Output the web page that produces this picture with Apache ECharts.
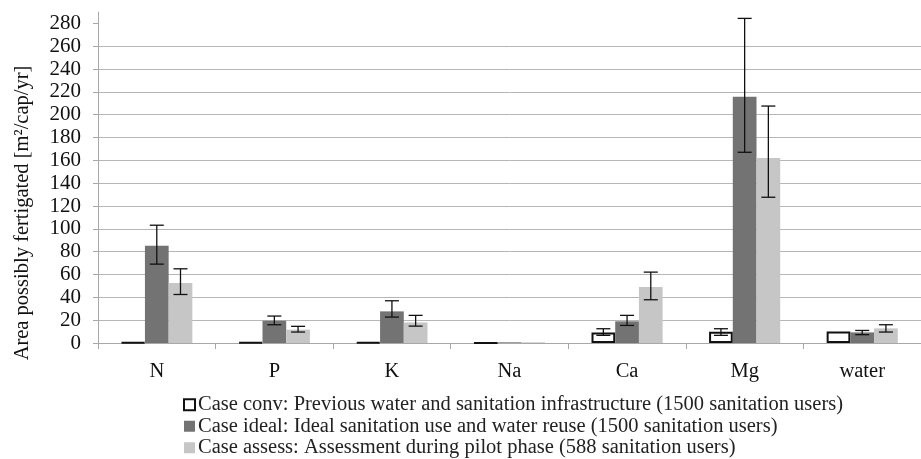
<!DOCTYPE html>
<html>
<head>
<meta charset="utf-8">
<script src="https://cdn.jsdelivr.net/npm/echarts@6/dist/echarts.min.js"></script>
<style>html,body{margin:0;padding:0;background:#fff}#c{width:921px;height:459px}</style>
</head>
<body>
<div id="c"></div>
<script>
const categories = ['N', 'P', 'K', 'Na', 'Ca', 'Mg', 'water'];
const seriesNames = [
  'Case conv: Previous water and sanitation infrastructure (1500 sanitation users)',
  'Case ideal: Ideal sanitation use and water reuse (1500 sanitation users)',
  'Case assess: Assessment during pilot phase (588 sanitation users)'
];
const convValues   = [0.5, 0.5, 0.6, 0.1, 9.3, 9.9, 10];
const idealValues  = [85.2, 19.5, 27.7, 0.6, 19, 215.8, 9.3];
const assessValues = [52.5, 11.7, 18, 0.6, 49, 162, 12.8];
const convLow   = [null, null, null, null, 6.7, 6.7, null];
const convHigh  = [null, null, null, null, 12.5, 12.5, null];
const idealLow  = [69.1, 16, 22.7, null, 15.4, 167.1, 7.3];
const idealHigh = [103.2, 23.6, 37, null, 24.2, 284.4, 11];
const assessLow  = [42.5, 9.6, 14.8, null, 37.9, 127.7, 9.6];
const assessHigh = [65, 14.6, 24.2, null, 62.1, 207.6, 16];
const yTickValues = [0, 20, 40, 60, 80, 100, 120, 140, 160, 180, 200, 220, 240, 260, 280];
const yMin = 0, yMax = 290, yInterval = 20;

const FONT = "'Liberation Serif', 'DejaVu Serif', serif";
const CAT_GAP = 0.395;

function errData(low, high) {
  const out = [];
  for (let i = 0; i < categories.length; i++) {
    if (low[i] != null && high[i] != null) out.push([i, low[i], high[i]]);
  }
  return out;
}
function errSeries(low, high, pos) {
  return {
    type: 'custom',
    data: errData(low, high),
    z: 10,
    silent: true,
    renderItem: function (params, api) {
      const idx = api.value(0);
      const lo = api.coord([idx, api.value(1)]);
      const hi = api.coord([idx, api.value(2)]);
      const band = api.size([1, 0])[0];
      const bw = band * (1 - CAT_GAP) / 3;
      const x = lo[0] + (pos - 1) * bw;
      const cap = 7;
      const style = { stroke: '#111', lineWidth: 1.3 };
      return {
        type: 'group',
        children: [
          { type: 'line', shape: { x1: x, y1: lo[1], x2: x, y2: hi[1] }, style: style },
          { type: 'line', shape: { x1: x - cap, y1: lo[1], x2: x + cap, y2: lo[1] }, style: style },
          { type: 'line', shape: { x1: x - cap, y1: hi[1], x2: x + cap, y2: hi[1] }, style: style }
        ]
      };
    }
  };
}

const chart = echarts.init(document.getElementById('c'), null, { renderer: 'canvas' });
chart.setOption({
  animation: false,
  backgroundColor: '#fff',
  textStyle: { fontFamily: FONT },
  grid: { left: 98, top: 12, right: -10, bottom: 116, containLabel: false },
  legend: {
    orient: 'vertical',
    left: 183,
    top: 394,
    padding: 0,
    itemGap: 0,
    itemWidth: 11,
    itemHeight: 11,
    icon: 'rect',
    data: seriesNames,
    textStyle: { fontFamily: FONT, fontSize: 20.5, color: '#222', lineHeight: 21.5, padding: [0, 0, 0, -2] }
  },
  xAxis: {
    type: 'category',
    data: categories,
    axisLine: { show: true, lineStyle: { color: '#a8a8a8', width: 1 } },
    axisTick: { show: true, length: 6, lineStyle: { color: '#a8a8a8' } },
    axisLabel: { fontFamily: FONT, fontSize: 20.5, color: '#111', margin: 18 },
    splitLine: { show: false }
  },
  yAxis: {
    type: 'value',
    min: yMin,
    max: yMax,
    interval: yInterval,
    name: 'Area possibly fertigated [m²/cap/yr]',
    nameLocation: 'middle',
    nameGap: 65,
    nameTextStyle: { fontFamily: FONT, fontSize: 20.5, color: '#111', padding: [0, 71, 0, 0] },
    axisLine: { show: true, lineStyle: { color: '#a8a8a8', width: 1 } },
    axisTick: { show: true, length: 5, customValues: yTickValues, lineStyle: { color: '#a8a8a8' } },
    axisLabel: { fontFamily: FONT, fontSize: 21, color: '#111', margin: 17, customValues: yTickValues },
    splitLine: { show: true, showMaxLine: false, lineStyle: { color: '#b6b6b6', width: 1 } }
  },
  series: [
    {
      name: seriesNames[0], type: 'bar', data: convValues,
      barGap: 0, barCategoryGap: (CAT_GAP * 100) + '%',
      itemStyle: { color: '#ffffff', borderColor: '#111', borderWidth: 2 }
    },
    {
      name: seriesNames[1], type: 'bar', data: idealValues,
      barGap: 0, barCategoryGap: (CAT_GAP * 100) + '%',
      itemStyle: { color: '#737373' }
    },
    {
      name: seriesNames[2], type: 'bar', data: assessValues,
      barGap: 0, barCategoryGap: (CAT_GAP * 100) + '%',
      itemStyle: { color: '#c6c6c6' }
    },
    errSeries(convLow, convHigh, 0),
    errSeries(idealLow, idealHigh, 1),
    errSeries(assessLow, assessHigh, 2)
  ]
});
</script>
</body>
</html>
